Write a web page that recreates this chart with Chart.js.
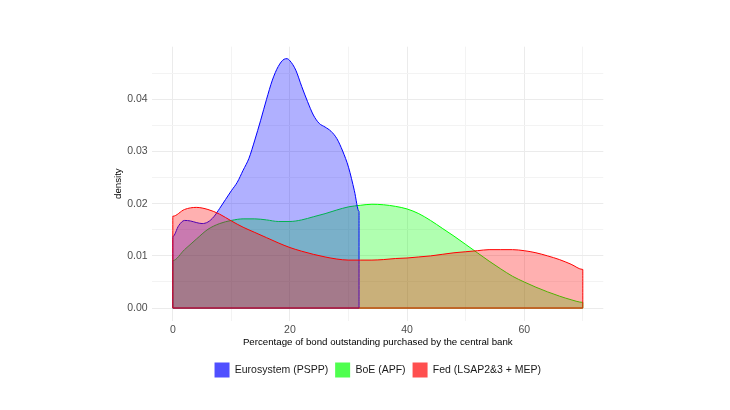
<!DOCTYPE html>
<html>
<head>
<meta charset="utf-8">
<script src="https://cdn.jsdelivr.net/npm/chart.js@4.4.1/dist/chart.umd.min.js"></script>
<style>
  html, body { margin: 0; padding: 0; background: #ffffff; }
  #wrap { width: 730px; height: 410px; }
</style>
</head>
<body>
<div id="wrap"><canvas id="c" width="730" height="410" style="width:730px;height:410px"></canvas></div>
<script>
// ---- Data (x = % of bond outstanding purchased, y = density) ----
const seriesNames = ['Eurosystem (PSPP)', 'BoE (APF)', 'Fed (LSAP2&3 + MEP)'];

const euroX = [0, 1, 2, 3, 4, 5, 6, 7, 8, 9, 10, 11, 12, 13, 14, 15, 16, 17, 18, 19, 19.5, 20, 21, 22, 23, 24, 25, 26, 27, 28, 29, 30, 31, 31.8];
const euroY = [0.0137, 0.0158, 0.0168, 0.0167, 0.0164, 0.0162, 0.0165, 0.0175, 0.0191, 0.0208, 0.0225, 0.0241, 0.0264, 0.0287, 0.0322, 0.0360, 0.0400, 0.0437, 0.0463, 0.0477, 0.0478, 0.0474, 0.0456, 0.0425, 0.0396, 0.0370, 0.0354, 0.0347, 0.0339, 0.0325, 0.0301, 0.0270, 0.0225, 0.0185];

const boeX = [0, 2, 4, 6, 8, 10, 12, 14, 16, 18, 20, 22, 24, 26, 28, 30, 32, 34, 36, 38, 40, 42, 44, 46, 48, 50, 52, 54, 56, 58, 60, 62, 64, 66, 68, 70];
const boeY = [0.0091, 0.0112, 0.0132, 0.0151, 0.0162, 0.0168, 0.0171, 0.0171, 0.0169, 0.0166, 0.0166, 0.0169, 0.0175, 0.0181, 0.0188, 0.0194, 0.0197, 0.0199, 0.0198, 0.0195, 0.0190, 0.0181, 0.0168, 0.0153, 0.0138, 0.0122, 0.0106, 0.0090, 0.0075, 0.0061, 0.0050, 0.0040, 0.0031, 0.0023, 0.0016, 0.0011];

const fedX = [0, 2, 4, 6, 8, 10, 12, 14, 16, 18, 20, 22, 24, 26, 28, 30, 32, 34, 36, 38, 40, 42, 44, 46, 48, 50, 52, 54, 56, 58, 60, 62, 64, 66, 68, 70];
const fedY = [0.0176, 0.0189, 0.0193, 0.0189, 0.0180, 0.0167, 0.0155, 0.0145, 0.0135, 0.0125, 0.0116, 0.0109, 0.0103, 0.0098, 0.0094, 0.0092, 0.0092, 0.0092, 0.0093, 0.0095, 0.0096, 0.0098, 0.0100, 0.0103, 0.0106, 0.0108, 0.0110, 0.0112, 0.0112, 0.0112, 0.0110, 0.0106, 0.0100, 0.0093, 0.0084, 0.0074];

// ---- Axis ticks ----
const xMajorTicks = [0, 20, 40, 60];
const xMinorTicks = [10, 30, 50, 70];
const yMajorTicks = [0, 0.01, 0.02, 0.03, 0.04];
const yMinorTicks = [0.005, 0.015, 0.025, 0.035, 0.045];
const xRange = [-3.5, 73.5];
const yRange = [-0.0024, 0.0501];

// ---- Styles ----
const lineColors = ['#0000ff', '#00ff00', '#ff0000'];
const fillColors = ['rgba(0,0,255,0.31)', 'rgba(0,255,0,0.31)', 'rgba(255,0,0,0.31)'];
const keyColors = ['rgba(0,0,255,0.69)', 'rgba(0,255,0,0.69)', 'rgba(255,0,0,0.69)'];
// stacking of the layers: BoE at the bottom, then Eurosystem, Fed on top (higher = drawn earlier)
const layerOrder = [4, 6, 2];

// density outline: baseline -> curve -> baseline (vertical edges at both ends)
function outline(xs, ys) {
  const pts = [{x: xs[0], y: 0}];
  xs.forEach((x, i) => pts.push({x: x, y: ys[i]}));
  pts.push({x: xs[xs.length - 1], y: 0});
  return pts;
}
// baseline segment of a density outline
function baseline(xs) {
  return [{x: xs[0], y: 0}, {x: xs[xs.length - 1], y: 0}];
}

const seriesX = [euroX, boeX, fedX];
const seriesY = [euroY, boeY, fedY];

const datasets = [];
seriesNames.forEach((name, i) => {
  datasets.push({
    label: name,
    data: outline(seriesX[i], seriesY[i]),
    borderColor: lineColors[i],
    backgroundColor: fillColors[i],
    borderWidth: 1,
    pointRadius: 0,
    pointHoverRadius: 0,
    fill: 'origin',
    cubicInterpolationMode: 'monotone',
    order: layerOrder[i]
  });
  datasets.push({
    label: name + ' baseline',
    data: baseline(seriesX[i]),
    borderColor: lineColors[i],
    borderWidth: 1,
    pointRadius: 0,
    pointHoverRadius: 0,
    fill: false,
    order: layerOrder[i] - 1
  });
});

const isMember = (v, arr) => arr.some(t => Math.abs(t - v) < 1e-9);

Chart.defaults.font.family = '"Liberation Sans", Arial, sans-serif';

new Chart(document.getElementById('c'), {
  type: 'line',
  data: { datasets: datasets },
  options: {
    responsive: false,
    animation: false,
    events: [],
    layout: { padding: { left: 100, right: 126.7, top: 46.7, bottom: 22.5 } },
    plugins: {
      tooltip: { enabled: false },
      legend: {
        position: 'bottom',
        fullSize: false,
        labels: {
          boxWidth: 15,
          boxHeight: 15,
          padding: 7,
          color: '#1a1a1a',
          font: { size: 10.5 },
          generateLabels: (chart) => seriesNames.map((n, i) => ({
            text: n,
            fillStyle: keyColors[i],
            strokeStyle: keyColors[i],
            lineWidth: 0,
            hidden: false,
            datasetIndex: 2 * i,
            fontColor: '#1a1a1a'
          }))
        }
      }
    },
    scales: {
      x: {
        type: 'linear',
        min: xRange[0],
        max: xRange[1],
        afterBuildTicks: (s) => { s.ticks = xMajorTicks.concat(xMinorTicks).sort((a, b) => a - b).map(v => ({value: v})); },
        afterFit: (s) => { s.height = 34.9; },
        grid: {
          drawTicks: false,
          color: (ctx) => isMember(ctx.tick.value, xMajorTicks) ? '#ebebeb' : '#f3f3f3',
          lineWidth: 1
        },
        border: { display: false },
        ticks: {
          padding: 3,
          color: '#4d4d4d',
          font: { size: 10.5 },
          maxRotation: 0,
          autoSkip: false,
          callback: (v) => isMember(v, xMajorTicks) ? String(v) : ''
        },
        title: {
          display: true,
          text: 'Percentage of bond outstanding purchased by the central bank',
          color: '#000000',
          font: { size: 9.7 },
          padding: { top: 0, bottom: 7.7 }
        }
      },
      y: {
        type: 'linear',
        min: yRange[0],
        max: yRange[1],
        afterBuildTicks: (s) => { s.ticks = yMajorTicks.concat(yMinorTicks).sort((a, b) => a - b).map(v => ({value: v})); },
        afterFit: (s) => { s.width = 52.3; },
        grid: {
          drawTicks: false,
          color: (ctx) => isMember(ctx.tick.value, yMajorTicks) ? '#ebebeb' : '#f3f3f3',
          lineWidth: 1
        },
        border: { display: false },
        ticks: {
          padding: 4.6,
          color: '#4d4d4d',
          font: { size: 10.5 },
          autoSkip: false,
          callback: (v) => isMember(v, yMajorTicks) ? v.toFixed(2) : ''
        },
        title: {
          display: true,
          text: 'density',
          color: '#000000',
          font: { size: 9.7 },
          padding: { top: 12.2, bottom: 0 }
        }
      }
    }
  }
});
</script>
</body>
</html>
